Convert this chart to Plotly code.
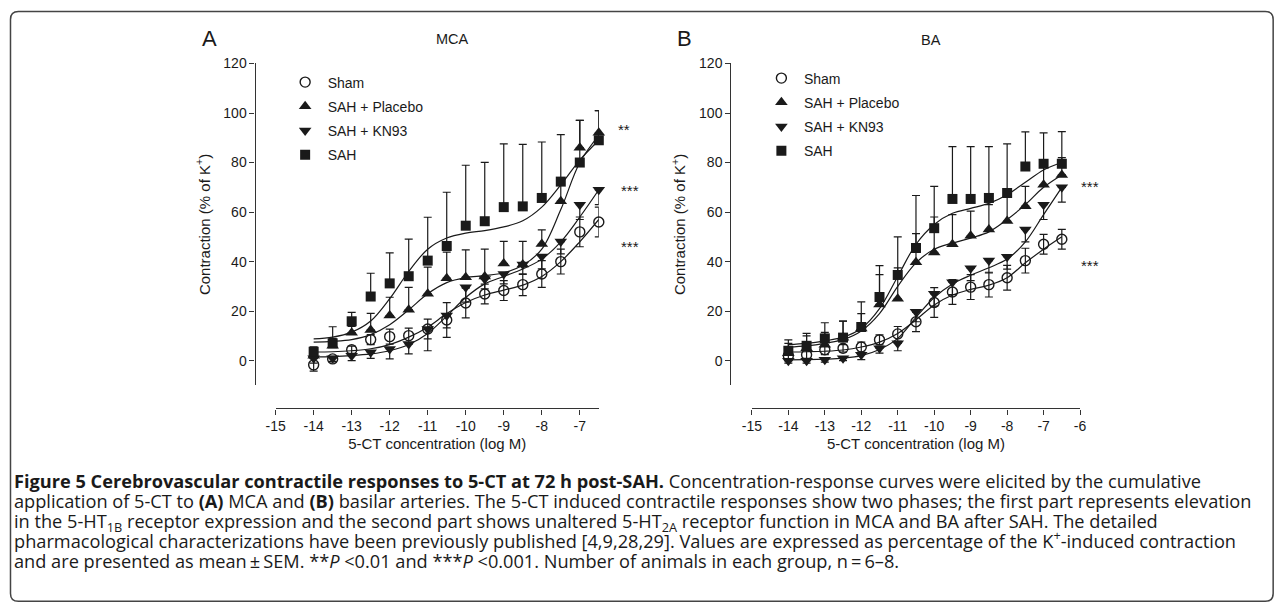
import plotly.graph_objects as go

W, H = 1282, 605
# the photographed page shows the figure shifted and slightly shrunk;
# these constants convert a wanted page pixel into a figure pixel
SCALE = 0.987
OFF_X, OFF_Y = 16.5, 15.5

# ---------------- data ----------------
conc = [-14.0, -13.5, -13.0, -12.5, -12.0, -11.5, -11.0, -10.5,
        -10.0, -9.5, -9.0, -8.5, -8.0, -7.5, -7.0, -6.5]

series_names = ["Sham", "SAH + Placebo", "SAH + KN93", "SAH"]

# Panel A (MCA) means
sham_A = [-1.7, 0.7, 4.4, 8.5, 9.7, 10.1, 12.8, 16.4, 23.3, 26.9, 28.3, 30.7, 35.0, 40.0, 52.0, 56.0]
placebo_A = [2.0, 6.0, 11.3, 12.4, 18.2, 20.6, 27.0, 33.3, 33.7, 34.0, 39.2, 38.8, 47.1, 64.4, 86.0, 92.0]
kn93_A = [1.0, 1.0, 2.0, 3.4, 4.7, 6.7, 12.8, 18.2, 29.6, 33.0, 35.0, 38.8, 42.1, 48.1, 63.0, 69.0]
sah_A = [3.6, 7.0, 15.9, 25.9, 31.2, 34.1, 40.4, 46.3, 54.5, 56.3, 62.0, 62.3, 65.7, 72.3, 80.0, 89.0]

# Panel A SEM
sham_A_err = [2.5, 1.0, 1.5, 2.0, 3.0, 3.0, 4.0, 7.0, 6.0, 4.0, 4.0, 4.4, 5.4, 5.0, 6.0, 6.0]
placebo_A_up = [2.0, 3.0, 2.5, 6.7, 7.4, 9.0, 10.8, 10.5, 11.0, 11.0, 9.0, 9.4, 5.7, 7.0, 11.0, 9.0]
kn93_A_down = [2.0, 1.5, 2.0, 2.5, 4.0, 4.0, 8.8, 5.0, 6.0, 4.0, 4.0, 4.0, 5.0, 5.0, 6.0, 6.0]
sah_A_up = [2.0, 6.7, 3.6, 9.4, 12.3, 15.0, 17.5, 21.7, 24.4, 23.8, 25.5, 25.0, 22.6, 19.0, 17.0, 12.0]

# Panel A fitted curves
fit_sham_A = [3.5, 3.6, 4.0, 4.8, 6.5, 9.5, 13.5, 19.0, 23.5, 26.5, 28.5, 30.5, 34.0, 40.0, 48.0, 57.0]
fit_placebo_A = [7.5, 7.8, 8.5, 10.5, 14.5, 20.5, 27.0, 31.5, 33.5, 34.3, 35.5, 38.5, 45.0, 61.0, 80.0, 91.0]
fit_kn93_A = [1.5, 1.6, 2.0, 2.7, 4.0, 6.5, 11.0, 18.0, 25.5, 31.0, 34.0, 37.0, 41.0, 48.0, 58.0, 69.0]
fit_sah_A = [8.8, 9.5, 11.5, 16.0, 25.0, 36.0, 45.0, 49.5, 51.5, 52.5, 54.0, 56.5, 62.0, 71.0, 81.0, 89.0]

# Panel B (BA) means
sham_B = [2.0, 2.4, 4.4, 5.0, 5.5, 8.4, 10.8, 15.7, 23.5, 27.7, 29.7, 30.7, 33.5, 40.4, 47.0, 49.0]
placebo_B = [3.0, 5.0, 6.4, 9.2, 13.0, 22.7, 25.0, 39.7, 43.7, 47.0, 50.4, 53.0, 56.4, 62.4, 71.0, 75.0]
kn93_B = [0.0, 0.0, 0.4, 1.0, 2.4, 5.0, 7.0, 19.7, 27.0, 31.7, 37.3, 40.4, 42.0, 53.0, 63.0, 70.0]
sah_B = [4.0, 6.0, 9.0, 9.3, 13.6, 25.7, 34.6, 45.5, 53.5, 65.3, 65.3, 65.7, 67.7, 78.4, 79.5, 79.5]

# Panel B SEM
sham_B_err = [2.0, 1.5, 2.0, 1.5, 2.0, 2.0, 3.0, 4.0, 6.0, 5.0, 5.0, 5.0, 5.0, 5.0, 4.0, 4.0]
placebo_B_up = [4.0, 5.0, 5.0, 6.8, 6.0, 12.0, 12.5, 11.6, 14.3, 12.0, 10.0, 10.0, 10.0, 8.0, 8.0, 7.0]
kn93_B_down = [1.0, 1.0, 1.0, 1.0, 2.0, 2.0, 3.0, 4.0, 5.0, 5.0, 5.0, 5.0, 5.0, 5.0, 6.0, 6.0]
sah_B_up = [4.4, 5.0, 6.3, 6.7, 10.1, 12.7, 15.4, 21.2, 16.9, 21.1, 21.1, 20.7, 19.8, 14.0, 12.5, 13.0]

# Panel B fitted curves
fit_sham_B = [3.5, 3.6, 3.8, 4.3, 5.5, 7.5, 11.0, 16.5, 22.5, 26.5, 28.8, 30.5, 33.5, 39.5, 45.0, 50.0]
fit_placebo_B = [5.5, 6.0, 7.0, 8.5, 12.0, 19.0, 30.0, 39.5, 45.0, 47.5, 49.5, 52.0, 57.0, 63.0, 70.0, 75.0]
fit_kn93_B = [0.3, 0.4, 0.6, 1.0, 2.0, 4.5, 9.0, 17.5, 25.5, 31.0, 34.5, 37.5, 41.0, 48.0, 59.0, 70.0]
fit_sah_B = [6.5, 7.0, 8.0, 9.5, 13.0, 21.0, 34.0, 47.0, 55.0, 59.5, 61.5, 63.5, 67.0, 72.0, 77.0, 80.0]

y_ticks = [0, 20, 40, 60, 80, 100, 120]
x_ticks_A = [-15, -14, -13, -12, -11, -10, -9, -8, -7]
x_ticks_B = [-15, -14, -13, -12, -11, -10, -9, -8, -7, -6]
x_labels_A = [str(v) for v in x_ticks_A]
x_labels_B = [str(v) for v in x_ticks_B]

caption_lines = [
    "<b>Figure 5 Cerebrovascular contractile responses to 5-CT at 72 h post-SAH.</b> "
    "Concentration-response curves were elicited by the cumulative",
    "application of 5-CT to <b>(A)</b> MCA and <b>(B)</b> basilar arteries. The 5-CT induced "
    "contractile responses show two phases; the first part represents elevation",
    "in the 5-HT<sub>1B</sub> receptor expression and the second part shows unaltered "
    "5-HT<sub>2A</sub> receptor function in MCA and BA after SAH. The detailed",
    "pharmacological characterizations have been previously published [4,9,28,29]. "
    "Values are expressed as percentage of the K<sup>+</sup>-induced contraction",
    "and are presented as mean\u2009\u00b1\u2009SEM. **<i>P</i> &lt;0.01 and ***<i>P</i> &lt;0.001. "
    "Number of animals in each group, n\u2009=\u20096\u20138.",
]
caption_y = [481, 501, 522, 539, 561]


# ---------------- helpers (layout only: page pixel -> paper fraction) ----------------
def fx(p):
    return ((p - OFF_X) / SCALE) / W


def fy(p):
    return 1 - ((p - OFF_Y) / SCALE) / H


INK = "#1a1a1a"
FONT = "Liberation Sans, Arial, sans-serif"

fig = go.Figure()

styles = {
    "Sham": dict(symbol="circle-open", size=10, line=dict(width=1.4, color=INK), color=INK),
    "SAH + Placebo": dict(symbol="triangle-up", size=11, color=INK, line=dict(width=0)),
    "SAH + KN93": dict(symbol="triangle-down", size=11, color=INK, line=dict(width=0)),
    "SAH": dict(symbol="square", size=10, color=INK, line=dict(width=0)),
}


def add_panel(xa, ya, legend, means, ups, downs, fits):
    for name, fit in zip(series_names, fits):
        fig.add_trace(go.Scatter(
            x=conc, y=fit, mode="lines", xaxis=xa, yaxis=ya,
            line=dict(color=INK, width=1.2, shape="spline", smoothing=1.0),
            showlegend=False, hoverinfo="skip"))
    for name, m, u, d in zip(series_names, means, ups, downs):
        fig.add_trace(go.Scatter(
            x=conc, y=m, mode="markers", name=name, xaxis=xa, yaxis=ya,
            legend=legend, legendgroup=legend + name,
            marker=styles[name],
            error_y=dict(type="data", symmetric=False, array=u, arrayminus=d,
                         color=INK, thickness=1.2, width=4),
            cliponaxis=False))


zeros = [0.0] * len(conc)
add_panel("x", "y", "legend",
          [sham_A, placebo_A, kn93_A, sah_A],
          [sham_A_err, placebo_A_up, zeros, sah_A_up],
          [sham_A_err, zeros, kn93_A_down, zeros],
          [fit_sham_A, fit_placebo_A, fit_kn93_A, fit_sah_A])
add_panel("x2", "y2", "legend2",
          [sham_B, placebo_B, kn93_B, sah_B],
          [sham_B_err, placebo_B_up, zeros, sah_B_up],
          [sham_B_err, zeros, kn93_B_down, zeros],
          [fit_sham_B, fit_placebo_B, fit_kn93_B, fit_sah_B])

axis_common = dict(showline=True, linecolor="#333", linewidth=1.3, ticks="outside",
                   ticklen=5, tickwidth=1.3, tickcolor="#333", showgrid=False,
                   zeroline=False, tickfont=dict(size=14, color=INK, family=FONT))

y_dom = [fy(385), fy(63)]
x_pos = fy(408)
x_title = "5-CT concentration (log M)"
y_title = "Contraction (% of K<sup>+</sup>)"

fig.update_layout(
    width=W, height=H,
    margin=dict(l=0, r=0, t=0, b=0, pad=0),
    paper_bgcolor="white", plot_bgcolor="white",
    font=dict(family=FONT, color=INK, size=13),
    xaxis=dict(domain=[fx(274), fx(597)], range=[-15, -6.5], anchor="free", position=x_pos,
               tickvals=x_ticks_A, ticktext=x_labels_A,
               title=dict(text=x_title, standoff=5, font=dict(size=15)), **axis_common),
    yaxis=dict(domain=y_dom, range=[-10, 120], anchor="free", position=fx(253),
               tickvals=y_ticks,
               title=dict(text=y_title, standoff=8, font=dict(size=15)), **axis_common),
    xaxis2=dict(domain=[fx(750), fx(1078)], range=[-15, -6], anchor="free", position=x_pos,
                tickvals=x_ticks_B, ticktext=x_labels_B,
                title=dict(text=x_title, standoff=5, font=dict(size=15)), **axis_common),
    yaxis2=dict(domain=y_dom, range=[-10, 120], anchor="free", position=fx(728.5),
                tickvals=y_ticks,
                title=dict(text=y_title, standoff=8, font=dict(size=15)), **axis_common),
    legend=dict(x=fx(281), y=fy(66), xanchor="left", yanchor="top", bgcolor="rgba(0,0,0,0)",
                font=dict(size=14, family=FONT, color=INK), tracegroupgap=3, itemwidth=35),
    legend2=dict(x=fx(757), y=fy(62), xanchor="left", yanchor="top", bgcolor="rgba(0,0,0,0)",
                 font=dict(size=14, family=FONT, color=INK), tracegroupgap=3, itemwidth=35),
    showlegend=True,
)

ann = []


def label(text, x, y, size, anchor="center", family=FONT):
    ann.append(dict(text=text, x=fx(x), y=fy(y), xref="paper", yref="paper",
                    showarrow=False, xanchor=anchor, yanchor="middle",
                    font=dict(size=size, family=family, color=INK)))


label("A", 208, 38, 22)
label("MCA", 451, 39, 14.5)
label("B", 683, 38, 22)
label("BA", 929, 40, 14.5)
label("**", 622, 129, 15)
label("***", 628, 190, 15)
label("***", 628, 246, 15)
label("***", 1088, 186, 15)
label("***", 1088, 265, 15)

for line, yc in zip(caption_lines, caption_y):
    label(line, 11, yc, 18.2, anchor="left", family="Open Sans, sans-serif")

fig.update_layout(annotations=ann)

# rounded frame around the figure (kept inside the part of the page that is photographed)
r_x, r_y = 8 / W, 8 / H
L, R, T, B = fx(9), fx(1271), fy(11), fy(601)
frame = (f"M {L},{T - r_y} Q {L},{T} {L + r_x},{T} L {R - r_x},{T} Q {R},{T} {R},{T - r_y} "
         f"L {R},{B + r_y} Q {R},{B} {R - r_x},{B} L {L + r_x},{B} Q {L},{B} {L},{B + r_y} Z")
fig.update_layout(shapes=[dict(type="path", path=frame, xref="paper", yref="paper",
                               line=dict(color="#444", width=1.5))])

fig.write_html("out.html")
